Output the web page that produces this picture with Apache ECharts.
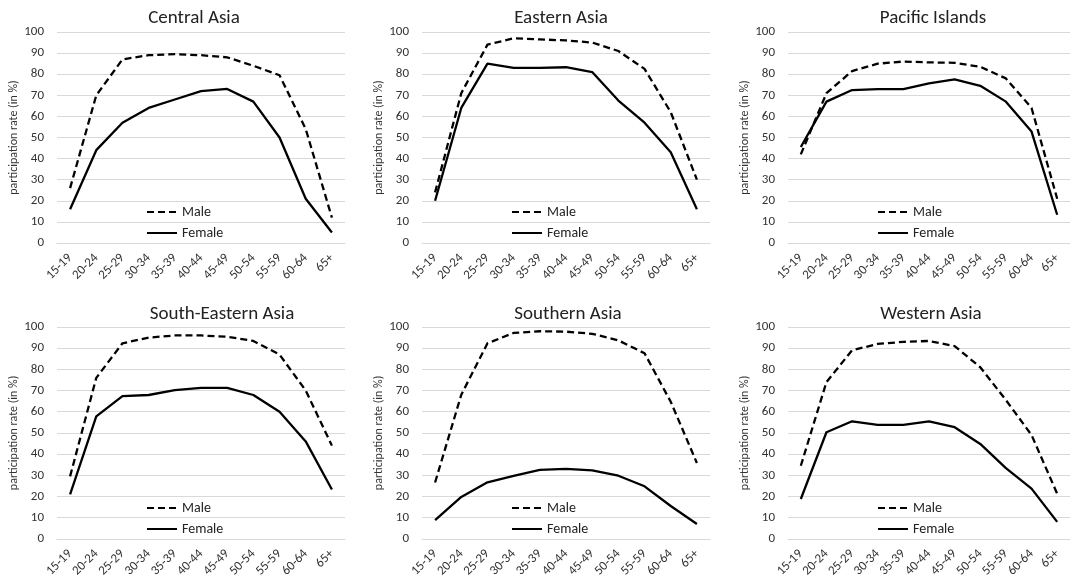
<!DOCTYPE html>
<html>
<head>
<meta charset="utf-8">
<script src="https://cdn.jsdelivr.net/npm/echarts@6/dist/echarts.min.js"></script>
<style>
html,body{margin:0;padding:0;background:#fff;}
#c{width:1070px;height:580px;}
</style>
</head>
<body>
<div id="c"></div>
<script>
const categories = ['15-19','20-24','25-29','30-34','35-39','40-44','45-49','50-54','55-59','60-64','65+'];
const regions = ['Central Asia','Eastern Asia','Pacific Islands','South-Eastern Asia','Southern Asia','Western Asia'];
const yTicks = [0,10,20,30,40,50,60,70,80,90,100];

const centralMale   = [26, 70, 87, 89, 89.5, 89, 88, 84, 79.5, 54, 12];
const centralFemale = [16, 44, 57, 64, 68, 72, 73, 67, 50, 21, 5];
const easternMale   = [24, 71, 94, 97, 96.5, 96, 95, 91, 82.5, 62, 30];
const easternFemale = [20, 64, 85, 83, 83, 83.3, 81, 67.5, 57, 43, 16];
const pacificMale   = [42, 71, 81.5, 85, 86, 85.6, 85.4, 83.5, 78, 64, 21];
const pacificFemale = [45.5, 67, 72.5, 72.9, 72.9, 75.7, 77.5, 74.5, 67, 52.8, 13.4];
const seMale        = [29.5, 76, 92.3, 95, 96, 96, 95.4, 93.4, 87, 70, 44];
const seFemale      = [21, 57.8, 67.4, 67.9, 70.2, 71.3, 71.3, 67.9, 60, 46, 23.3];
const southMale     = [26.6, 68, 92.3, 97.2, 98, 97.8, 96.8, 93.7, 87.6, 64.7, 35.8];
const southFemale   = [8.8, 19.8, 26.7, 29.7, 32.6, 33, 32.3, 29.8, 24.8, 15.5, 7];
const westMale      = [34.5, 74, 89, 92, 93, 93.4, 91, 81, 65.5, 49, 21.3];
const westFemale    = [18.8, 50.3, 55.5, 53.8, 53.8, 55.5, 52.7, 44.8, 33.4, 23.7, 8];

const maleData = [centralMale, easternMale, pacificMale, seMale, southMale, westMale];
const femaleData = [centralFemale, easternFemale, pacificFemale, seFemale, southFemale, westFemale];

const FONT = 'Carlito, Lato, "Open Sans", sans-serif';
const gridLefts = [57, 422, 788];
const gridTops = [32, 327];
const gridHeights = [211, 212];
const titleCenters = [[189, 556, 928], [217, 563, 926]];
const titleTops = [4, 300];
const legendTops = [205, 501];

const grids = [], xAxes = [], yAxes = [], series = [], titles = [], legends = [];
for (let i = 0; i < 6; i++) {
  const r = Math.floor(i / 3), c = i % 3;
  grids.push({left: gridLefts[c], top: gridTops[r], width: 288, height: gridHeights[r]});
  titles.push({
    text: regions[i], left: titleCenters[r][c], top: titleTops[r], textAlign: 'center',
    textStyle: {fontFamily: FONT, fontSize: 19, fontWeight: 'normal', color: '#222'}
  });
  xAxes.push({
    type: 'category', gridIndex: i, data: categories, boundaryGap: true,
    axisLine: {show: true, lineStyle: {color: '#d9d9d9', width: 1}},
    axisTick: {show: false},
    axisLabel: {rotate: 45, margin: 13, interval: 0, fontFamily: FONT, fontSize: 13, color: '#333'}
  });
  yAxes.push({
    type: 'value', gridIndex: i, min: yTicks[0], max: yTicks[yTicks.length - 1], interval: 10,
    name: 'participation rate (in %)', nameLocation: 'middle', nameGap: 36, nameRotate: 90,
    nameTextStyle: {fontFamily: FONT, fontSize: 12, color: '#333'},
    axisLine: {show: false}, axisTick: {show: false},
    axisLabel: {margin: 13, fontFamily: FONT, fontSize: 13, color: '#333'},
    splitLine: {show: true, lineStyle: {color: '#d9d9d9', width: 1}}
  });
  series.push({
    name: 'Male', type: 'line', xAxisIndex: i, yAxisIndex: i, data: maleData[i],
    symbol: 'none', lineStyle: {color: '#000', width: 2.3, type: [7, 4]}, itemStyle: {color: '#000'}
  });
  series.push({
    name: 'Female', type: 'line', xAxisIndex: i, yAxisIndex: i, data: femaleData[i],
    symbol: 'none', lineStyle: {color: '#000', width: 2.3, type: 'solid'}, itemStyle: {color: '#000'}
  });
  legends.push({
    data: ['Male', 'Female'], orient: 'vertical', left: gridLefts[c] + 89, top: legendTops[r],
    itemWidth: 30, itemHeight: 14, itemGap: 7, padding: 0,
    itemStyle: {color: 'rgba(0,0,0,0)', borderColor: 'rgba(0,0,0,0)', borderWidth: 0},
    textStyle: {fontFamily: FONT, fontSize: 14, color: '#222'}
  });
}

const chart = echarts.init(document.getElementById('c'), null, {renderer: 'canvas'});
chart.setOption({
  backgroundColor: '#fff',
  animation: false,
  title: titles,
  legend: legends,
  grid: grids,
  xAxis: xAxes,
  yAxis: yAxes,
  series: series
});
</script>
</body>
</html>
